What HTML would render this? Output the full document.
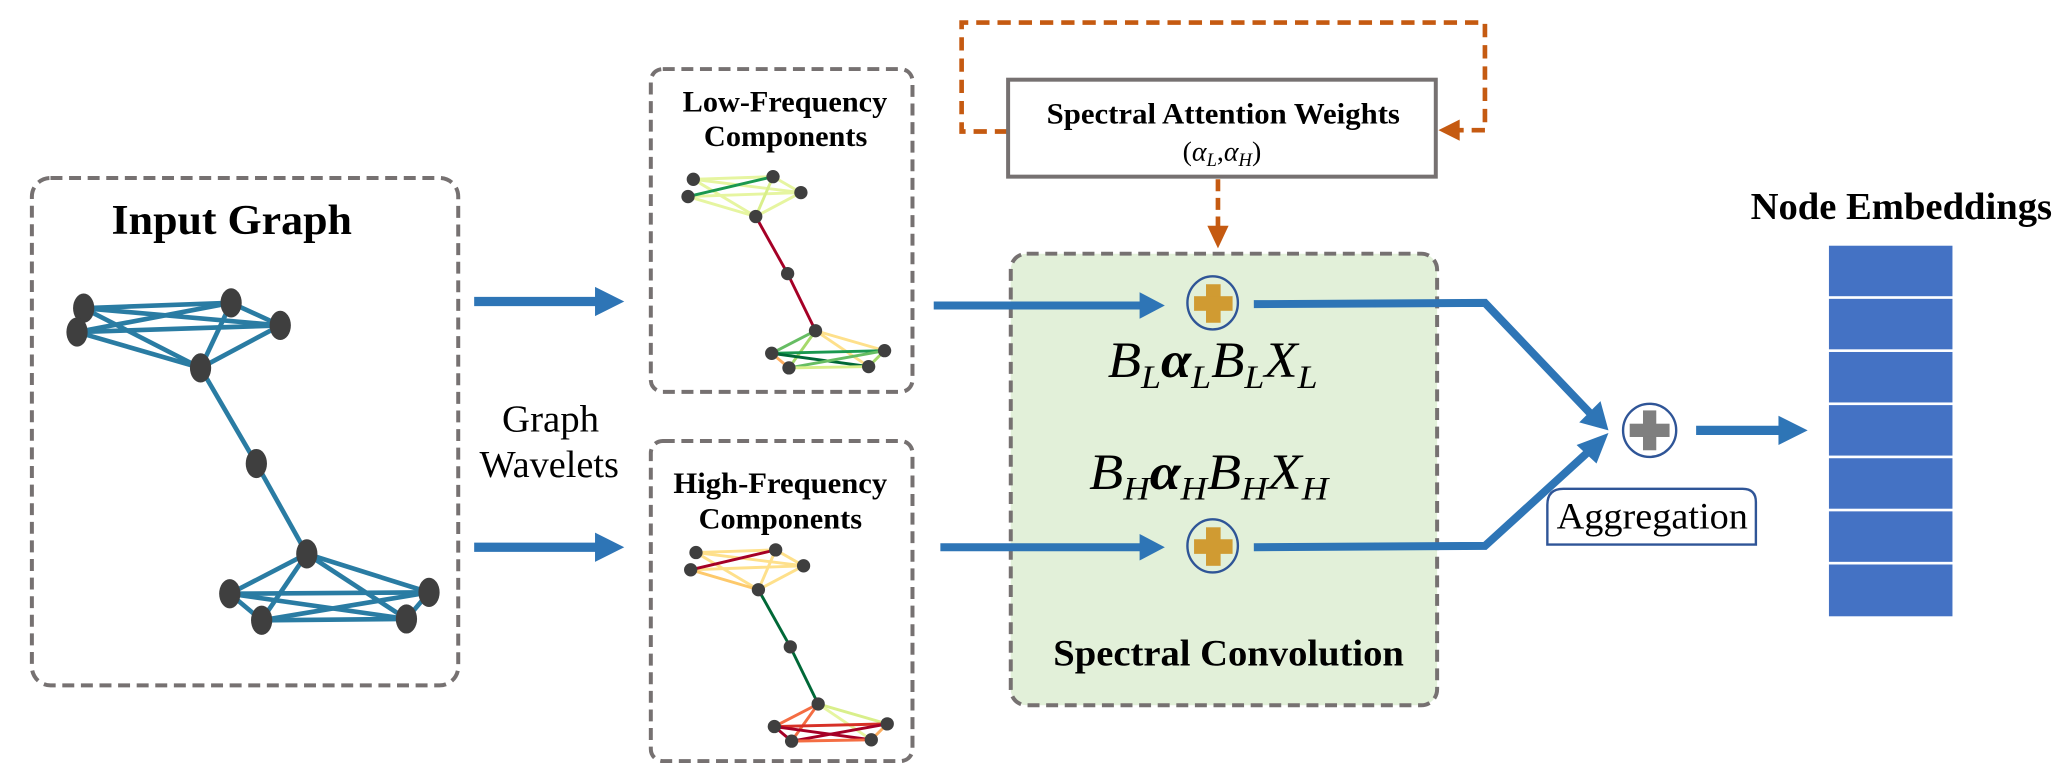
<!DOCTYPE html>
<html><head><meta charset="utf-8"><style>
html,body{margin:0;padding:0;background:#fff;}
svg{display:block}
text{font-family:"Liberation Serif",serif;}
</style></head><body>
<svg width="2072" height="779" viewBox="0 0 1560 586.5" preserveAspectRatio="none" xmlns="http://www.w3.org/2000/svg">
<!-- Input graph box -->
<rect x="24" y="134" width="321" height="382" rx="14" fill="none" stroke="#767171" stroke-width="3" stroke-dasharray="9,5"/>
<text x="84" y="176" font-size="32" font-weight="bold" textLength="181" lengthAdjust="spacingAndGlyphs">Input Graph</text>
<g stroke="#2a7ca3" stroke-width="3.5">
<line x1="63" y1="232" x2="174" y2="228"/><line x1="63" y1="232" x2="211" y2="245"/><line x1="63" y1="232" x2="151" y2="277"/><line x1="63" y1="232" x2="58" y2="250"/>
<line x1="58" y1="250" x2="174" y2="228"/><line x1="58" y1="250" x2="211" y2="245"/><line x1="58" y1="250" x2="151" y2="277"/>
<line x1="174" y1="228" x2="211" y2="245"/><line x1="174" y1="228" x2="151" y2="277"/><line x1="211" y1="245" x2="151" y2="277"/>
<line x1="151" y1="277" x2="193" y2="349"/><line x1="193" y1="349" x2="231" y2="417"/>
<line x1="231" y1="417" x2="173" y2="447"/><line x1="231" y1="417" x2="197" y2="467"/><line x1="231" y1="417" x2="323" y2="446"/><line x1="231" y1="417" x2="306" y2="466"/>
<line x1="173" y1="447" x2="323" y2="446"/><line x1="173" y1="447" x2="306" y2="466"/><line x1="173" y1="447" x2="197" y2="467"/>
<line x1="197" y1="467" x2="323" y2="446"/><line x1="197" y1="467" x2="306" y2="466"/><line x1="323" y1="446" x2="306" y2="466"/>
</g>
<g fill="#3f3f3f">
<ellipse cx="63" cy="232" rx="8" ry="11"/><ellipse cx="58" cy="250" rx="8" ry="11"/><ellipse cx="174" cy="228" rx="8" ry="11"/><ellipse cx="211" cy="245" rx="8" ry="11"/><ellipse cx="151" cy="277" rx="8" ry="11"/>
<ellipse cx="193" cy="349" rx="8" ry="11"/><ellipse cx="231" cy="417" rx="8" ry="11"/><ellipse cx="173" cy="447" rx="8" ry="11"/><ellipse cx="197" cy="467" rx="8" ry="11"/><ellipse cx="323" cy="446" rx="8" ry="11"/><ellipse cx="306" cy="466" rx="8" ry="11"/>
</g>
<!-- wavelet arrows -->
<line x1="357" y1="227" x2="452" y2="227" stroke="#2e75b6" stroke-width="7"/><path d="M448,216 L470,227 L448,238z" fill="#2e75b6"/>
<line x1="357" y1="412" x2="452" y2="412" stroke="#2e75b6" stroke-width="7"/><path d="M448,401 L470,412 L448,423z" fill="#2e75b6"/>
<text x="378" y="325" font-size="29" textLength="73" lengthAdjust="spacingAndGlyphs">Graph</text>
<text x="361" y="359" font-size="29" textLength="105" lengthAdjust="spacingAndGlyphs">Wavelets</text>
<!-- Low freq box -->
<rect x="490" y="52" width="197" height="243" rx="9" fill="none" stroke="#767171" stroke-width="3" stroke-dasharray="9,5"/>
<text x="514" y="84" font-size="22" font-weight="bold" textLength="154" lengthAdjust="spacingAndGlyphs">Low-Frequency</text>
<text x="530" y="110" font-size="22" font-weight="bold" textLength="123" lengthAdjust="spacingAndGlyphs">Components</text>
<g stroke-width="2.2">
<line x1="522" y1="135" x2="582" y2="133" stroke="#e6f5a0"/><line x1="522" y1="135" x2="603" y2="145" stroke="#e6f5a0"/><line x1="522" y1="135" x2="569" y2="163" stroke="#e6f5a0"/>
<line x1="518" y1="148" x2="603" y2="145" stroke="#e6f5a0"/><line x1="518" y1="148" x2="569" y2="163" stroke="#e6f5a0"/><line x1="582" y1="133" x2="569" y2="163" stroke="#d9ef8b"/>
<line x1="582" y1="133" x2="603" y2="145" stroke="#e6f5a0"/><line x1="603" y1="145" x2="569" y2="163" stroke="#e6f5a0"/>
<line x1="518" y1="148" x2="582" y2="133" stroke="#1a9850"/>
<line x1="569" y1="163" x2="593" y2="206" stroke="#a50026"/><line x1="593" y1="206" x2="614" y2="249" stroke="#a50026"/>
<line x1="614" y1="249" x2="581" y2="266" stroke="#66bd63"/><line x1="614" y1="249" x2="594" y2="277" stroke="#a6d96a"/><line x1="614" y1="249" x2="666" y2="264" stroke="#fee08b"/><line x1="614" y1="249" x2="654" y2="276" stroke="#fee08b"/>
<line x1="581" y1="266" x2="666" y2="264" stroke="#1a9850"/><line x1="581" y1="266" x2="654" y2="276" stroke="#006837"/><line x1="581" y1="266" x2="594" y2="277" stroke="#fdae61"/>
<line x1="594" y1="277" x2="666" y2="264" stroke="#66bd63"/><line x1="594" y1="277" x2="654" y2="276" stroke="#d9ef8b"/><line x1="666" y1="264" x2="654" y2="276" stroke="#a6d96a"/>
</g>
<g fill="#3f3f3f">
<circle cx="522" cy="135" r="5"/><circle cx="518" cy="148" r="5"/><circle cx="582" cy="133" r="5"/><circle cx="603" cy="145" r="5"/><circle cx="569" cy="163" r="5"/><circle cx="593" cy="206" r="5"/><circle cx="614" cy="249" r="5"/><circle cx="581" cy="266" r="5"/><circle cx="594" cy="277" r="5"/><circle cx="666" cy="264" r="5"/><circle cx="654" cy="276" r="5"/>
</g>
<!-- High freq box -->
<rect x="490" y="332" width="197" height="241" rx="9" fill="none" stroke="#767171" stroke-width="3" stroke-dasharray="9,5"/>
<text x="507" y="371" font-size="22" font-weight="bold" textLength="161" lengthAdjust="spacingAndGlyphs">High-Frequency</text>
<text x="526" y="398" font-size="22" font-weight="bold" textLength="123" lengthAdjust="spacingAndGlyphs">Components</text>
<g stroke-width="2.2" transform="translate(2,281)">
<line x1="522" y1="135" x2="582" y2="133" stroke="#fee08b"/><line x1="522" y1="135" x2="603" y2="145" stroke="#fee08b"/><line x1="522" y1="135" x2="569" y2="163" stroke="#fee08b"/>
<line x1="518" y1="148" x2="603" y2="145" stroke="#fee08b"/><line x1="518" y1="148" x2="569" y2="163" stroke="#fdc96b"/><line x1="582" y1="133" x2="569" y2="163" stroke="#fee08b"/>
<line x1="582" y1="133" x2="603" y2="145" stroke="#fee08b"/><line x1="603" y1="145" x2="569" y2="163" stroke="#fee08b"/>
<line x1="518" y1="148" x2="582" y2="133" stroke="#a50026"/>
<line x1="569" y1="163" x2="593" y2="206" stroke="#006837"/><line x1="593" y1="206" x2="614" y2="249" stroke="#006837"/>
<line x1="614" y1="249" x2="581" y2="266" stroke="#f46d43"/><line x1="614" y1="249" x2="594" y2="277" stroke="#f46d43"/><line x1="614" y1="249" x2="666" y2="264" stroke="#d9ef8b"/><line x1="614" y1="249" x2="654" y2="276" stroke="#e6f5a0"/>
<line x1="581" y1="266" x2="666" y2="264" stroke="#d73027"/><line x1="581" y1="266" x2="654" y2="276" stroke="#a50026"/><line x1="581" y1="266" x2="594" y2="277" stroke="#a50026"/>
<line x1="594" y1="277" x2="666" y2="264" stroke="#a50026"/><line x1="594" y1="277" x2="654" y2="276" stroke="#f46d43"/><line x1="666" y1="264" x2="654" y2="276" stroke="#fdae61"/>
</g>
<g fill="#3f3f3f" transform="translate(2,281)">
<circle cx="522" cy="135" r="5"/><circle cx="518" cy="148" r="5"/><circle cx="582" cy="133" r="5"/><circle cx="603" cy="145" r="5"/><circle cx="569" cy="163" r="5"/><circle cx="593" cy="206" r="5"/><circle cx="614" cy="249" r="5"/><circle cx="581" cy="266" r="5"/><circle cx="594" cy="277" r="5"/><circle cx="666" cy="264" r="5"/><circle cx="654" cy="276" r="5"/>
</g>
<!-- orange loop -->
<path d="M759,99 L724,99 L724,17 L1118,17 L1118,98 L1098,98" fill="none" stroke="#c55a11" stroke-width="3.5" stroke-dasharray="10,6"/>
<path d="M1099,90 L1083,98 L1099,106z" fill="#c55a11"/>
<!-- attention box -->
<rect x="759" y="60" width="322" height="73" fill="#fff" stroke="#767171" stroke-width="3"/>
<text x="788" y="93" font-size="22" font-weight="bold" textLength="266" lengthAdjust="spacingAndGlyphs">Spectral Attention Weights</text>
<text x="920" y="121" font-size="21" text-anchor="middle">(<tspan font-style="italic">α</tspan><tspan font-style="italic" font-size="14" dy="4">L</tspan><tspan dy="-4">,</tspan><tspan font-style="italic">α</tspan><tspan font-style="italic" font-size="14" dy="4">H</tspan><tspan dy="-4">)</tspan></text>
<line x1="917" y1="135" x2="917" y2="172" stroke="#c55a11" stroke-width="3.5" stroke-dasharray="9,5"/>
<path d="M909,170 L917,187 L925,170z" fill="#c55a11"/>
<!-- green box -->
<rect x="761" y="191" width="321" height="340" rx="12" fill="#e2f0d9" stroke="#767171" stroke-width="3" stroke-dasharray="9,5"/>
<text x="793" y="501" font-size="28" font-weight="bold" textLength="264" lengthAdjust="spacingAndGlyphs">Spectral Convolution</text>
<text x="834" y="284" font-size="38" font-style="italic" textLength="158" lengthAdjust="spacingAndGlyphs">B<tspan font-size="25" dy="8">L</tspan><tspan dy="-8" font-weight="bold">α</tspan><tspan font-size="25" dy="8">L</tspan><tspan dy="-8">B</tspan><tspan font-size="25" dy="8">L</tspan><tspan dy="-8">X</tspan><tspan font-size="25" dy="8">L</tspan></text>
<text x="820" y="368" font-size="38" font-style="italic" textLength="180" lengthAdjust="spacingAndGlyphs">B<tspan font-size="25" dy="8">H</tspan><tspan dy="-8" font-weight="bold">α</tspan><tspan font-size="25" dy="8">H</tspan><tspan dy="-8">B</tspan><tspan font-size="25" dy="8">H</tspan><tspan dy="-8">X</tspan><tspan font-size="25" dy="8">H</tspan></text>
<!-- arrows into plus -->
<line x1="703" y1="230" x2="862" y2="230" stroke="#2e75b6" stroke-width="6"/><path d="M858,220 L877,230 L858,240z" fill="#2e75b6"/>
<line x1="708" y1="412" x2="862" y2="412" stroke="#2e75b6" stroke-width="6"/><path d="M858,402 L877,412 L858,422z" fill="#2e75b6"/>
<g>
<ellipse cx="913" cy="228" rx="19" ry="20" fill="none" stroke="#2f5597" stroke-width="1.8"/>
<rect x="908" y="214" width="11" height="29" fill="#d09b32"/><rect x="899" y="223" width="29" height="11" fill="#d09b32"/>
<ellipse cx="913" cy="411" rx="19" ry="20" fill="none" stroke="#2f5597" stroke-width="1.8"/>
<rect x="908" y="397" width="11" height="29" fill="#d09b32"/><rect x="899" y="406" width="29" height="11" fill="#d09b32"/>
</g>
<!-- out lines -->
<path d="M944,229 L1118,228 L1198,312" fill="none" stroke="#2e75b6" stroke-width="6"/>
<path d="M1189,318 L1211,324 L1205,302z" fill="#2e75b6"/>
<path d="M944,412 L1118,411 L1196,340" fill="none" stroke="#2e75b6" stroke-width="6"/>
<path d="M1187,335 L1211,326 L1202,349z" fill="#2e75b6"/>
<ellipse cx="1242" cy="324" rx="20" ry="20" fill="#fff" stroke="#2f5597" stroke-width="1.8"/>
<rect x="1237" y="309" width="10" height="30" fill="#7f7f7f"/><rect x="1227" y="319" width="30" height="10" fill="#7f7f7f"/>
<line x1="1277" y1="324" x2="1342" y2="324" stroke="#2e75b6" stroke-width="7"/><path d="M1339,313 L1361,324 L1339,335z" fill="#2e75b6"/>
<path d="M1165,410 L1165,380 Q1165,368 1177,368 L1312,368 Q1322,368 1322,378 L1322,410 Z" fill="#fff" stroke="#2f5597" stroke-width="1.8"/>
<text x="1172" y="398" font-size="28" textLength="144" lengthAdjust="spacingAndGlyphs">Aggregation</text>
<!-- embeddings -->
<text x="1318" y="165" font-size="29" font-weight="bold" textLength="227" lengthAdjust="spacingAndGlyphs">Node Embeddings</text>
<g fill="#4472c4">
<rect x="1377" y="185" width="93" height="38"/><rect x="1377" y="225" width="93" height="38"/><rect x="1377" y="265" width="93" height="38"/><rect x="1377" y="305" width="93" height="38"/><rect x="1377" y="345" width="93" height="38"/><rect x="1377" y="385" width="93" height="38"/><rect x="1377" y="425" width="93" height="39"/>
</g>
</svg>
</body></html>
